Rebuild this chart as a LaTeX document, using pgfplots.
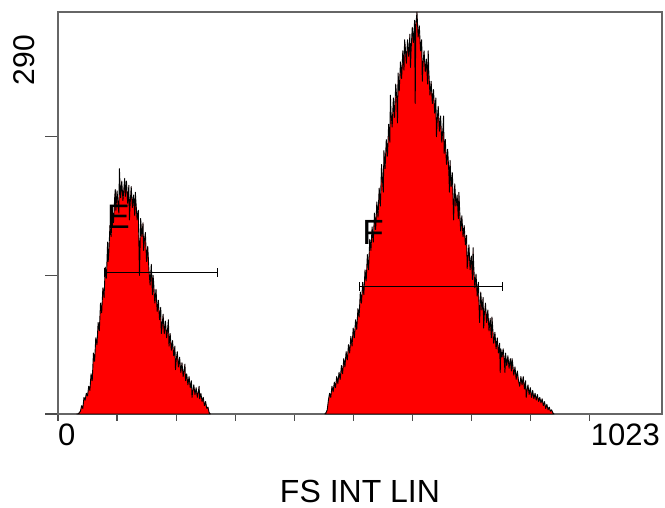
\documentclass[border=0pt]{standalone}
\usepackage{fontspec}
\setmainfont{Liberation Sans}
\usepackage{pgfplots}
\pgfplotsset{compat=1.18}

\begin{document}
\begin{tikzpicture}
\begin{axis}[
  at={(0,0)}, anchor=south west,
  scale only axis,
  width=604pt, height=402pt,
  xmin=0, xmax=1023, ymin=0, ymax=290,
  axis line style={black!60, line width=1.1pt},
  tick align=outside,
  xtick pos=bottom, ytick pos=left,
  xtick={0,100,...,900}, ytick={0,100,200},
  xticklabels={}, yticklabels={},
  tick style={black!70, line width=1.1pt},
  xtick style={/pgfplots/major tick length=7pt},
  ytick style={/pgfplots/major tick length=13pt},
  clip=false,
]
% population E
\addplot[fill=red, draw=black, line width=0.9pt, line join=round] coordinates {
(32,0) (34,0) (36,1) (38,2) (40,6) (42,4) (44,12) (46,10) (48,15) (50,13)
(52,20) (54,17) (56,29) (58,24) (60,44) (62,38) (64,55) (66,50) (68,66) (70,60)
(72,80) (74,73) (76,91) (78,84) (80,106) (82,98) (84,124) (85,110) (86,116) (88,136) (90,128)
(92,147) (94,138) (96,156) (97,162) (98,147) (100,161) (102,150) (103,145) (104,177) (106,156) (108,168) (110,154)
(112,165) (113,170) (114,157) (116,168) (118,152) (120,165) (121,140) (122,150) (124,164) (126,149) (128,158) (130,143)
(131,160) (132,153) (134,140) (136,147) (138,100) (140,141) (142,128) (144,138) (145,118) (146,124) (148,131) (150,110)
(152,121) (154,104) (156,93) (158,108) (160,86) (161,100) (162,95) (164,80) (166,90) (168,74) (170,82)
(172,68) (174,77) (175,58) (176,62) (178,72) (180,58) (182,67) (184,55) (186,63) (187,68) (188,49) (190,58)
(192,46) (194,53) (196,42) (198,49) (199,32) (200,38) (202,45) (204,34) (206,41) (208,30) (210,37)
(212,27) (214,33) (215,36) (216,24) (218,29) (220,21) (222,27) (224,19) (226,24) (227,12) (228,16) (230,21)
(232,14) (234,19) (236,12) (238,17) (239,20) (240,11) (242,15) (244,9) (246,12) (248,6) (250,9)
(252,4) (254,5) (256,1) (258,0)
} \closedcycle;
% population F
\addplot[fill=red, draw=black, line width=0.9pt, line join=round] coordinates {
(452,0) (454,1) (456,3) (458,10) (460,15) (462,12) (464,20) (466,16) (468,23) (470,19)
(472,27) (474,22) (476,30) (478,25) (480,35) (482,29) (484,40) (486,34) (488,45) (490,39)
(492,50) (494,44) (496,56) (498,49) (500,62) (502,55) (504,68) (506,61) (508,76) (510,70)
(512,88) (514,80) (516,95) (518,86) (520,104) (522,96) (524,115) (526,104) (528,126) (530,118)
(532,135) (534,124) (536,145) (538,133) (540,153) (542,142) (544,163) (546,150) (548,180) (550,166)
(551,160) (552,190) (554,177) (556,198) (558,186) (560,209) (562,196) (563,230) (564,218) (566,207) (568,228) (570,214)
(572,238) (574,226) (575,210) (576,246) (578,233) (580,254) (582,242) (584,262) (586,248) (587,270) (588,266) (590,253)
(592,270) (594,258) (596,274) (597,250) (598,262) (600,279) (602,268) (604,284) (605,224) (606,280) (608,290)
(610,272) (612,280) (614,262) (616,270) (617,240) (618,252) (620,262) (622,247) (624,256) (626,238) (627,262) (628,248)
(630,230) (632,240) (634,224) (636,234) (638,217) (640,228) (641,200) (642,210) (644,222) (646,204) (648,215)
(650,196) (652,206) (653,215) (654,188) (656,198) (658,180) (660,191) (662,174) (663,160) (664,183) (666,164) (668,174)
(670,140) (672,166) (674,150) (676,158) (678,141) (679,160) (680,150) (682,132) (684,143) (686,128) (688,136)
(690,122) (692,129) (693,105) (694,110) (696,122) (698,104) (700,114) (702,97) (703,120) (704,108) (706,91) (708,101)
(710,85) (712,95) (714,66) (716,88) (718,75) (720,84) (721,62) (722,71) (724,80) (726,66) (728,75)
(730,60) (732,69) (734,55) (735,70) (736,64) (738,51) (740,59) (742,47) (744,55) (746,44) (748,51)
(749,30) (750,47) (752,41) (754,47) (756,38) (757,30) (758,44) (760,35) (762,42) (764,33) (766,40)
(768,31) (769,40) (770,37) (772,28) (774,34) (776,25) (778,31) (780,24) (782,20) (784,27) (786,21)
(788,27) (790,18) (792,24) (793,12) (794,16) (796,21) (798,14) (800,19) (802,12) (804,17) (806,11)
(808,15) (810,10) (812,14) (814,9) (816,12) (818,8) (820,11) (822,6) (824,9) (826,4)
(828,7) (830,3) (832,5) (834,2) (836,3) (838,1) (840,0)
} \closedcycle;
% gate markers
\draw[black, line width=0.7pt] (axis cs:78,102) -- (axis cs:270,102);
\draw[black, line width=0.7pt] (axis cs:78,99) -- (axis cs:78,105);
\draw[black, line width=0.7pt] (axis cs:270,99) -- (axis cs:270,105);
\draw[black, line width=0.7pt] (axis cs:511,92) -- (axis cs:752,92);
\draw[black, line width=0.7pt] (axis cs:511,89) -- (axis cs:511,95);
\draw[black, line width=0.7pt] (axis cs:752,89) -- (axis cs:752,95);
\node[anchor=base west, inner sep=0pt, font=\fontsize{34}{34}\selectfont] at (axis cs:83,134) {E};
\node[anchor=base west, inner sep=0pt, font=\fontsize{35}{35}\selectfont] at (axis cs:515,122) {F};
% labels
\node[anchor=north west, inner sep=0pt, yshift=-10pt, font=\fontsize{31}{31}\selectfont] at (rel axis cs:0,0) {0};
\node[anchor=north east, inner sep=0pt, yshift=-10pt, xshift=-2pt, font=\fontsize{31}{31}\selectfont] at (rel axis cs:1,0) {1023};
\node[anchor=base, inner sep=0pt, yshift=-88.5pt, font=\fontsize{32}{32}\selectfont] at (rel axis cs:0.5,0) {FS INT LIN};
\end{axis}
\node[rotate=90, anchor=center, inner sep=0pt, font=\fontsize{30}{30}\selectfont] at (-34.3pt,354pt) {290};
\pgfresetboundingbox
\path[use as bounding box] (-58pt,-94pt) rectangle (607pt,414pt);
\end{tikzpicture}
\end{document}
